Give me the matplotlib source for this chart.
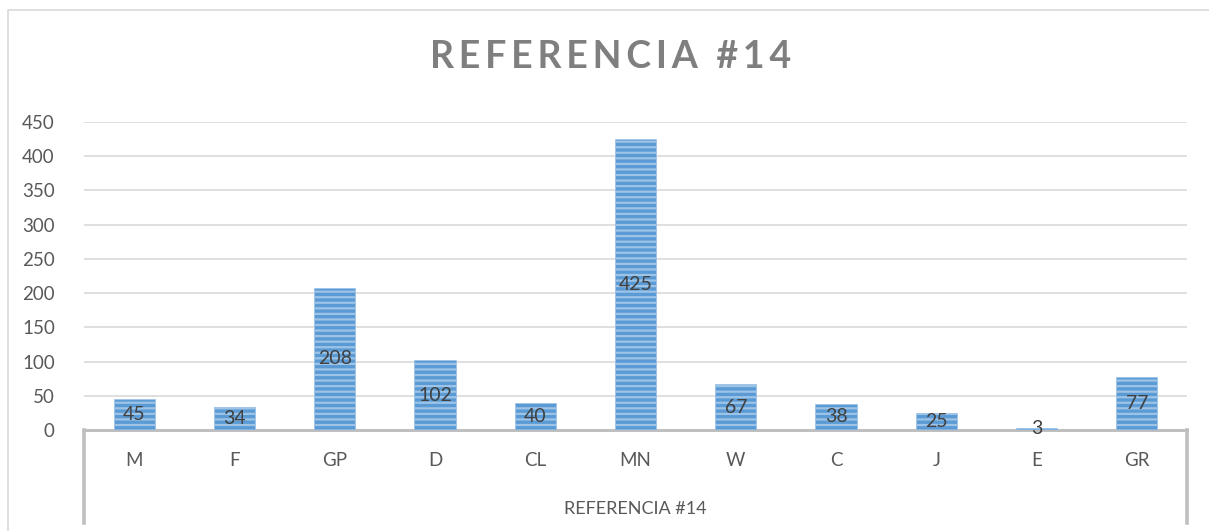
import matplotlib
matplotlib.use("Agg")
import matplotlib.pyplot as plt
from matplotlib.lines import Line2D

plt.rcParams['font.family'] = ['Lato', 'DejaVu Sans']
plt.rcParams['hatch.color'] = '#d6e6f5'
plt.rcParams['hatch.linewidth'] = 1.6

# datos
categorias = ['M', 'F', 'GP', 'D', 'CL', 'MN', 'W', 'C', 'J', 'E', 'GR']
valores = [45, 34, 208, 102, 40, 425, 67, 38, 25, 3, 77]
titulo = 'REFERENCIA #14'
y_ticks = [0, 50, 100, 150, 200, 250, 300, 350, 400, 450]

W, H = 1209, 531
fig = plt.figure(figsize=(W / 100, H / 100), dpi=100)
fig.patch.set_facecolor('white')
# marco del grafico (solo borde izquierdo y superior visibles)
fig.lines.append(Line2D([7.5 / W, 7.5 / W, 1.0], [0.0, 1 - 9.5 / H, 1 - 9.5 / H], transform=fig.transFigure,
                        color='#d9d9d9', linewidth=1.2))

ax = fig.add_axes([84 / W, 101 / H, 1103 / W, 308 / H])
x = list(range(len(categorias)))
ax.bar(x, valores, width=0.41, color='#5b9bd5', edgecolor='#9dc3e6', linewidth=0.5, hatch='---', zorder=3)

for xi, v in zip(x, valores):
    ax.text(xi, v / 2, str(v), ha='center', va='center', fontsize=14, color='#404040', zorder=4)

ax.set_xlim(-0.5, len(categorias) - 0.5)
ax.set_ylim(0, 450)
ax.set_yticks(y_ticks)
ax.yaxis.grid(True, color='#d9d9d9', linewidth=1.2, zorder=0)
ax.tick_params(axis='y', length=0, labelsize=13.5, labelcolor='#595959', pad=21)
ax.set_xticks(x)
ax.set_xticklabels(categorias)
ax.tick_params(axis='x', length=0, labelsize=13.5, labelcolor='#595959', pad=16)
for s in ['top', 'right', 'left']:
    ax.spines[s].set_visible(False)
ax.spines['bottom'].set_color('#bfbfbf')
ax.spines['bottom'].set_linewidth(2.2)

# eje de categorias de dos niveles
for xe in [0, 1]:
    ax.plot([xe, xe], [0, -0.303], transform=ax.transAxes, color='#bfbfbf', linewidth=2.6, clip_on=False)
ax.text(0.5, -0.255, titulo, transform=ax.transAxes, ha='center', va='center', fontsize=13, color='#595959')

fig.text(0.505, 0.892, '\u2009'.join(titulo), ha='center', va='center', fontsize=27, fontweight='bold',
         color='#7f7f7f')

fig.savefig('out.png', dpi=100)
